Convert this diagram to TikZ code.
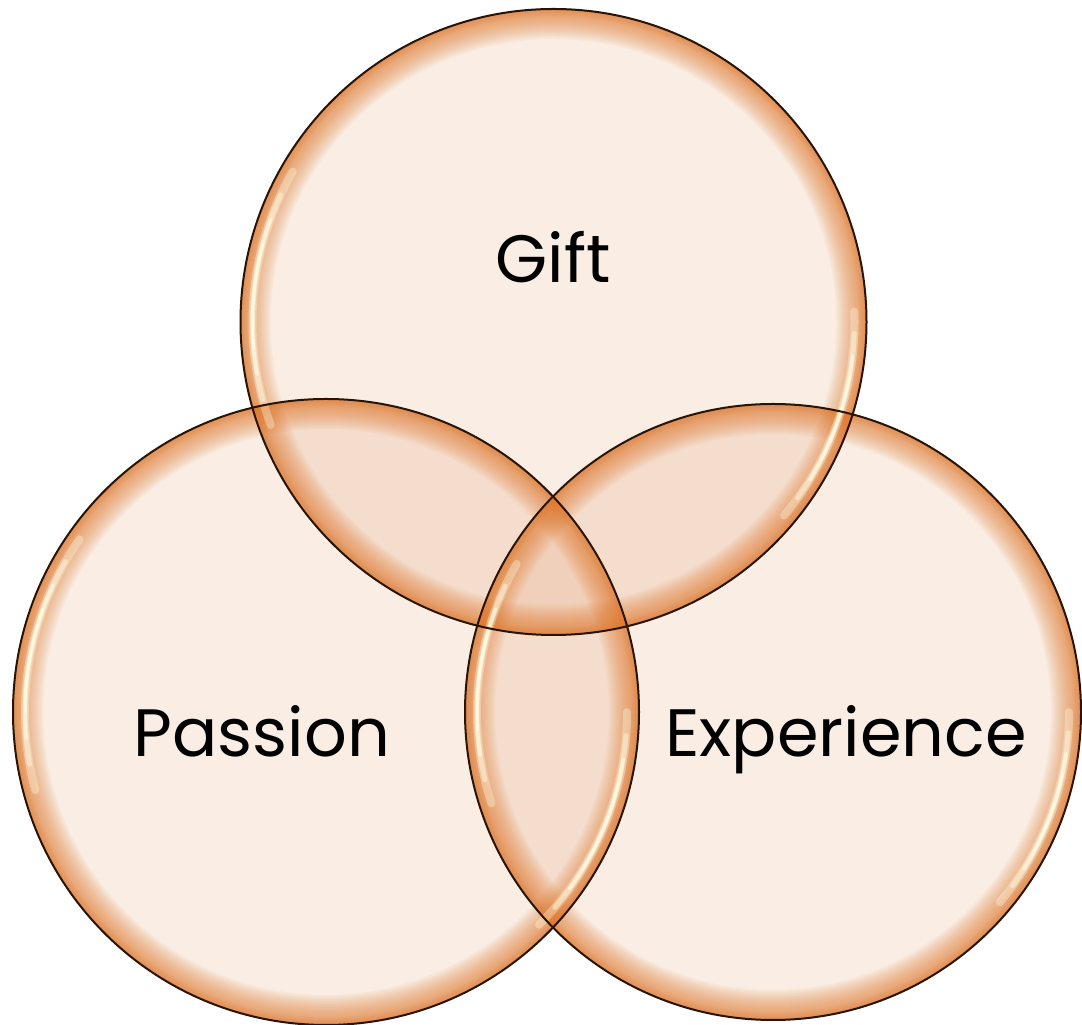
\documentclass[tikz,border=0pt]{standalone}
\usepackage{fontspec}
\setmainfont{Poppins}
\definecolor{fillc}{RGB}{220,135,80}
\definecolor{rimc}{RGB}{225,118,40}
\definecolor{edgec}{RGB}{40,20,6}
\definecolor{hlc}{RGB}{255,252,228}
\tikzset{
  disc/.style={fill=fillc, fill opacity=0.15, draw=none},
  rimline/.style={draw=rimc, opacity=0.065},
  outline/.style={draw=edgec, line width=2pt},
  hl/.style={draw=hlc, line cap=round},
  label/.style={anchor=base, font=\fontsize{67}{80}\selectfont, text=black}
}
\newcommand{\rimof}[3]{%
  \begin{scope}
    \clip (#1,#2) circle (#3);
    \foreach \w in {4,8,...,60} {\draw[rimline, line width=\w pt] (#1,#2) circle (#3);}
    \foreach \w in {6,10,14} {\draw[rimline, line width=\w pt] (#1,#2) circle (#3);}
  \end{scope}}
\newcommand{\hlarc}[5]{% cx cy r a1 a2
  \pgfmathsetmacro{\mid}{(#4+#5)/2}
  \pgfmathsetmacro{\half}{(#5-#4)/2}
  \foreach \f/\o/\lw in {1.0/0.35/8, 0.8/0.45/5, 0.6/0.6/3.5, 0.4/0.75/2.5} {
    \pgfmathsetmacro{\aa}{\mid-\f*\half}
    \pgfmathsetmacro{\bb}{\mid+\f*\half}
    \draw[hl, opacity=\o, line width=\lw pt] (#1,#2) ++(\aa:#3) arc[start angle=\aa, end angle=\bb, radius=#3];
  }}
\begin{document}
\begin{tikzpicture}[x=1pt,y=1pt]
  \path[fill=white, use as bounding box] (0,0) rectangle (1082,1025);
  % circle centres (y up)
  \coordinate (cg) at (553.5,703);
  \coordinate (cp) at (326,313);
  \coordinate (ce) at (773,313);
  % fills
  \path[disc] (cg) circle (313);
  \path[disc] (cp) circle (313);
  \path[disc] (ce) circle (308);
  % rims
  \rimof{553.5}{703}{313}
  \rimof{326}{313}{313}
  \rimof{773}{313}{308}
  % highlights
  \hlarc{553.5}{703}{301}{150}{200}
  \hlarc{553.5}{703}{301}{-40}{2}
  \hlarc{326}{313}{301}{145}{195}
  \hlarc{326}{313}{301}{-45}{0}
  \hlarc{773}{313}{296}{150}{198}
  \hlarc{773}{313}{296}{-40}{0}
  % outlines
  \draw[outline] (cg) circle (313);
  \draw[outline] (cp) circle (313);
  \draw[outline] (ce) circle (308);
  % labels
  \node[label] (gift) at (553,742) {Gift};
  \node[label] (passion) at (262,268) {Passion};
  \node[label] (exp) at (846,268) {Experience};
\end{tikzpicture}
\end{document}
